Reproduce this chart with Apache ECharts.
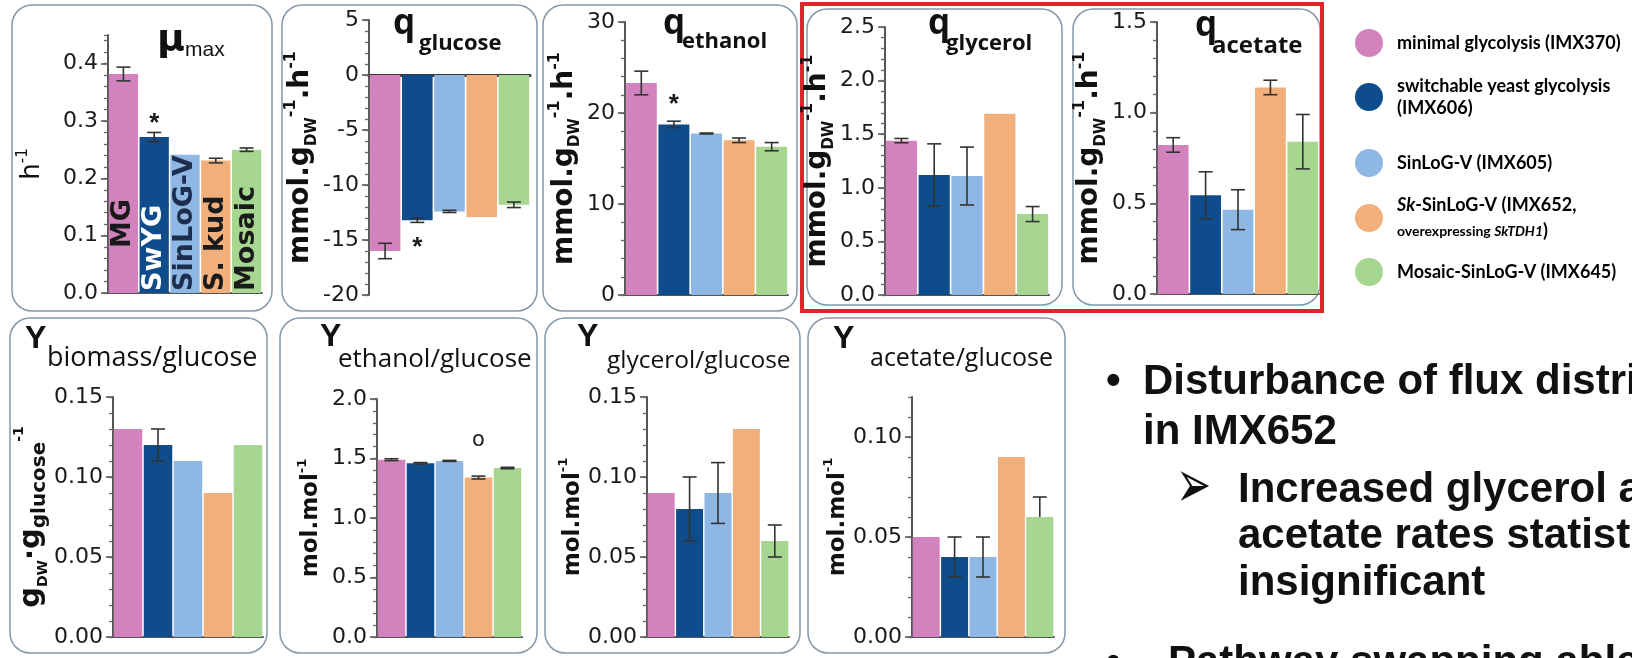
<!DOCTYPE html>
<html><head><meta charset="utf-8">
<script src="https://cdn.jsdelivr.net/npm/echarts@6/dist/echarts.min.js"></script>
<style>html,body{margin:0;padding:0;background:#fff}#c{width:1632px;height:658px}</style>
</head><body><div id="c"></div>
<script>
// ---------------- DATA ----------------
const strains = ['MG', 'SwYG', 'SinLoG-V', 'S. kud', 'Mosaic'];
const strainColors = ['#D283BE', '#0E4C8C', '#8EB8E3', '#F1B07B', '#A6D690'];
const strainLabelColors = ['#1a1a1a', '#ffffff', '#1d2d4d', '#1a1a1a', '#1a1a1a'];
const legendLabels = [
  '{b|minimal glycolysis (IMX370)}',
  '{b|switchable yeast glycolysis}\n{b|(IMX606)}',
  '{b|SinLoG-V (IMX605)}',
  '{bi|Sk}{b|-SinLoG-V (IMX652,}\n{s|overexpressing }{si|SkTDH1}{b|)}',
  '{b|Mosaic-SinLoG-V (IMX645)}'
];

const muMax = [0.382, 0.272, 0.241, 0.231, 0.250];
const muMaxErr = [0.012, 0.008, 0, 0.004, 0.003];
const muMaxMarks = ['', '*', '', '', ''];
const muMaxTicks = [0, 0.1, 0.2, 0.3, 0.4];

const qGlucose = [-16.0, -13.2, -12.4, -12.9, -11.8];
const qGlucoseErr = [0.7, 0.2, 0.1, 0, 0.25];
const qGlucoseMarks = ['', '*', '', '', ''];
const qGlucoseTicks = [-20, -15, -10, -5, 0, 5];

const qEthanol = [23.3, 18.75, 17.75, 17.0, 16.3];
const qEthanolErr = [1.3, 0.35, 0.05, 0.25, 0.45];
const qEthanolMarks = ['', '*', '', '', ''];
const qEthanolTicks = [0, 10, 20, 30];

const qGlycerol = [1.44, 1.12, 1.11, 1.69, 0.755];
const qGlycerolErr = [0.02, 0.29, 0.27, 0, 0.07];
const qGlycerolTicks = [0, 0.5, 1.0, 1.5, 2.0, 2.5];

const qAcetate = [0.822, 0.544, 0.465, 1.139, 0.84];
const qAcetateErr = [0.04, 0.13, 0.11, 0.04, 0.15];
const qAcetateTicks = [0, 0.5, 1.0, 1.5];

const yBiomass = [0.13, 0.12, 0.11, 0.09, 0.12];
const yBiomassErr = [0, 0.01, 0, 0, 0];
const yBiomassTicks = [0, 0.05, 0.10, 0.15];

const yEthanol = [1.49, 1.46, 1.48, 1.34, 1.42];
const yEthanolErr = [0.008, 0.006, 0.004, 0.012, 0.006];
const yEthanolMarks = ['', '', '', 'o', ''];
const yEthanolTicks = [0, 0.5, 1.0, 1.5, 2.0];

const yGlycerol = [0.09, 0.08, 0.09, 0.13, 0.06];
const yGlycerolErr = [0, 0.02, 0.019, 0, 0.01];
const yGlycerolTicks = [0, 0.05, 0.10, 0.15];

const yAcetate = [0.05, 0.04, 0.04, 0.09, 0.06];
const yAcetateErrLow = [0, 0.01, 0.01, 0, 0];
const yAcetateErrHigh = [0, 0.01, 0.01, 0, 0.01];
const yAcetateTicks = [0, 0.05, 0.10];

// ---------------- LAYOUT ----------------
const mmolName = '{b|mmol.g}{sub|DW}{sup|-1}{b|.h}{sup|-1}';
const molName = '{b|mol.mol}{sup|-1}';
const gName = '{b|g}{sub|DW}{b|·}{b|g}{sub2|glucose}{sup|-1}';
const FB = 'DejaVu Sans';
const richMmol = {
  b: {fontFamily: FB, fontWeight: 'bold', fontSize: 28, lineHeight: 36, color: '#111'},
  sub: {fontFamily: FB, fontWeight: 'bold', fontSize: 15, verticalAlign: 'bottom', color: '#111'},
  sup: {fontFamily: FB, fontWeight: 'bold', fontSize: 16, verticalAlign: 'top', color: '#111'}
};
const richMol = {
  b: {fontFamily: FB, fontWeight: 'bold', fontSize: 23, lineHeight: 30, color: '#111'},
  sup: {fontFamily: FB, fontWeight: 'bold', fontSize: 13, verticalAlign: 'top', color: '#111'}
};
const richG = {
  b: {fontFamily: FB, fontWeight: 'bold', fontSize: 29, lineHeight: 38, color: '#111'},
  sub: {fontFamily: FB, fontWeight: 'bold', fontSize: 14, verticalAlign: 'bottom', color: '#111'},
  sub2: {fontFamily: FB, fontWeight: 'bold', fontSize: 20, verticalAlign: 'bottom', color: '#111'},
  sup: {fontFamily: FB, fontWeight: 'bold', fontSize: 14, verticalAlign: 'top', color: '#111'}
};
const richH = {
  a: {fontFamily: FB, fontSize: 26, lineHeight: 32, color: '#111'},
  sup: {fontFamily: FB, fontSize: 15, verticalAlign: 'top', color: '#111'}
};
const starFont = 'bold 26px "Liberation Sans"';

const panels = [
  {values: muMax, errLo: muMaxErr, errHi: muMaxErr, marks: muMaxMarks, ticks: muMaxTicks,
   L: {grid: {left: 108, top: 35, width: 154, height: 258}, min: 0, max: 0.45, step: 0.1, minor: 0.02, dec: 1,
       name: '{a|h}{sup|-1}', rich: richH, nameGap: 60, markGap: 9, markFont: starFont, barLabels: true}},
  {values: qGlucose, errLo: qGlucoseErr, errHi: qGlucoseErr, marks: qGlucoseMarks, ticks: qGlucoseTicks,
   L: {grid: {left: 369, top: 20, width: 161, height: 275}, min: -20, max: 5, step: 5, minor: 1, dec: 0,
       name: mmolName, rich: richMmol, nameGap: 34, markGap: 25, markFont: starFont, zeroLine: true}},
  {values: qEthanol, errLo: qEthanolErr, errHi: qEthanolErr, marks: qEthanolMarks, ticks: qEthanolTicks,
   L: {grid: {left: 625, top: 22, width: 163, height: 273}, min: 0, max: 30, step: 10, minor: 2, dec: 0,
       name: mmolName, rich: richMmol, nameGap: 31, markGap: 16, markFont: starFont}},
  {values: qGlycerol, errLo: qGlycerolErr, errHi: qGlycerolErr, marks: null, ticks: qGlycerolTicks,
   L: {grid: {left: 885, top: 27, width: 164, height: 268}, min: 0, max: 2.5, step: 0.5, minor: 0.1, dec: 1,
       name: mmolName, rich: richMmol, nameGap: 27}},
  {values: qAcetate, errLo: qAcetateErr, errHi: qAcetateErr, marks: null, ticks: qAcetateTicks,
   L: {grid: {left: 1157, top: 22, width: 162, height: 272}, min: 0, max: 1.5, step: 0.5, minor: 0.1, dec: 1,
       name: mmolName, rich: richMmol, nameGap: 43}},
  {values: yBiomass, errLo: yBiomassErr, errHi: yBiomassErr, marks: null, ticks: yBiomassTicks,
   L: {grid: {left: 113, top: 397, width: 150, height: 240}, min: 0, max: 0.15, step: 0.05, minor: 0.01, dec: 2,
       name: gName, rich: richG, nameGap: 60}},
  {values: yEthanol, errLo: yEthanolErr, errHi: yEthanolErr, marks: yEthanolMarks, ticks: yEthanolTicks,
   L: {grid: {left: 377, top: 399, width: 145, height: 238}, min: 0, max: 2.0, step: 0.5, minor: 0.1, dec: 1,
       name: molName, rich: richMol, nameGap: 51, markGap: 36, markFont: '21px "DejaVu Sans"'}},
  {values: yGlycerol, errLo: yGlycerolErr, errHi: yGlycerolErr, marks: null, ticks: yGlycerolTicks,
   L: {grid: {left: 647, top: 397, width: 142, height: 240}, min: 0, max: 0.15, step: 0.05, minor: 0.01, dec: 2,
       name: molName, rich: richMol, nameGap: 56}},
  {values: yAcetate, errLo: yAcetateErrLow, errHi: yAcetateErrHigh, marks: null, ticks: yAcetateTicks,
   L: {grid: {left: 912, top: 397, width: 142, height: 240}, min: 0, max: 0.12, step: 0.05, minor: 0.01, dec: 2,
       name: molName, rich: richMol, nameGap: 56}}
];

function makeErr(p) {
  const L = p.L;
  return function (params, api) {
    const i = api.value(0), v = api.value(1), lo = api.value(2), hi = api.value(3);
    const c = api.coord([i, v]), t = api.coord([i, v + hi]), b = api.coord([i, v - lo]);
    const x = c[0], w = 7;
    const ls = {stroke: '#333', lineWidth: 1.6};
    const kids = [];
    if (hi > 0 || lo > 0) {
      kids.push({type: 'line', shape: {x1: x, y1: t[1], x2: x, y2: b[1]}, style: ls});
      if (hi > 0) kids.push({type: 'line', shape: {x1: x - w, y1: t[1], x2: x + w, y2: t[1]}, style: ls});
      if (lo > 0) kids.push({type: 'line', shape: {x1: x - w, y1: b[1], x2: x + w, y2: b[1]}, style: ls});
    }
    const m = p.marks ? p.marks[params.dataIndex] : '';
    if (m) {
      const y = v < 0 ? b[1] + L.markGap : t[1] - L.markGap;
      kids.push({type: 'text', style: {text: m, x: x, y: y, align: 'center', verticalAlign: 'middle', font: L.markFont, fill: '#1a1a1a'}});
    }
    return {type: 'group', children: kids};
  };
}

const grids = [], xAxes = [], yAxes = [], series = [];
panels.forEach((p, k) => {
  const L = p.L;
  grids.push(Object.assign({outerBoundsMode: 'none', containLabel: false}, L.grid));
  xAxes.push({type: 'category', gridIndex: k, data: strains,
    axisLine: {show: true, onZero: true, lineStyle: {color: L.zeroLine ? '#3a3a3a' : '#555', width: L.zeroLine ? 3 : 2}},
    axisTick: {show: false}, axisLabel: {show: false}, splitLine: {show: false}});
  const yMajor = yAxes.length;
  yAxes.push({type: 'value', gridIndex: k, min: L.min, max: L.max, interval: L.step, position: 'left',
    axisLine: {show: true, lineStyle: {color: '#555', width: 2}},
    axisTick: {show: true, length: 7, customValues: p.ticks, lineStyle: {color: '#555', width: 1.6}},
    axisLabel: {show: true, customValues: p.ticks, margin: 10, fontFamily: 'DejaVu Sans', fontSize: 22, color: '#1a1a1a',
      formatter: v => Number(v).toFixed(L.dec)},
    splitLine: {show: false}, minorTick: {show: false},
    name: L.name, nameLocation: 'middle', nameRotate: 90, nameGap: L.nameGap, nameTextStyle: {rich: L.rich}});
  yAxes.push({type: 'value', gridIndex: k, min: L.min, max: L.max, interval: L.minor, position: 'left',
    axisLine: {show: false}, axisTick: {show: true, length: 4, lineStyle: {color: '#666', width: 1.3}},
    axisLabel: {show: false}, splitLine: {show: false}});
  series.push({type: 'bar', xAxisIndex: k, yAxisIndex: yMajor, barCategoryGap: '5%', silent: true,
    label: L.barLabels ? {show: true, position: 'insideBottom', rotate: 90, align: 'left', verticalAlign: 'middle',
      fontFamily: 'DejaVu Sans', fontWeight: 'bold', fontSize: 27, formatter: q => strains[q.dataIndex]} : {show: false},
    data: p.values.map((v, i) => ({value: v, itemStyle: {color: strainColors[i]},
      label: L.barLabels ? {color: strainLabelColors[i], distance: i === 0 ? 45 : 2} : undefined}))});
  series.push({type: 'custom', xAxisIndex: k, yAxisIndex: yMajor, z: 5, silent: true, renderItem: makeErr(p),
    data: p.values.map((v, i) => [i, v, p.errLo[i], p.errHi[i]])});
});

// ---------------- DECORATION ----------------
const G = [];
const boxStyle = {fill: 'none', stroke: '#8597a8', lineWidth: 1.5};
[[12, 5, 272, 311], [282, 5, 537, 311], [543, 5, 797, 311], [807, 9, 1062, 305], [1073, 9, 1320, 305],
 [10, 318, 267, 653], [280, 318, 537, 653], [545, 318, 800, 653], [808, 318, 1065, 653]].forEach(b => {
  G.push({type: 'rect', shape: {x: b[0], y: b[1], width: b[2] - b[0], height: b[3] - b[1], r: 20}, style: boxStyle, silent: true});
});
G.push({type: 'rect', shape: {x: 802, y: 4, width: 520, height: 307}, style: {fill: 'none', stroke: '#E0242B', lineWidth: 4}, silent: true});

function txt(text, x, y, font, extra, props) {
  G.push(Object.assign({type: 'text', x: x, y: y, silent: true, z: 10,
    style: Object.assign({text: text, font: font, fill: '#111', align: 'left', verticalAlign: 'middle'}, extra || {})}, props || {}));
}
// titles
txt('μ', 157, 40, 'bold 38px "DejaVu Sans"');
txt('max', 185, 50, '21px "Liberation Sans"');
[[393, 24, 419, 44, 'glucose', 22], [663, 24, 682, 42, 'ethanol', 22], [928, 24, 946, 44, 'glycerol', 22], [1195, 26, 1212, 46, 'acetate', 24]]
  .forEach(t => { txt('q', t[0], t[1], 'bold 35px "Open Sans"'); txt(t[4], t[2], t[3], 'bold ' + t[5] + 'px "Open Sans"'); });
[[25, 339, 47, 358, 'biomass/glucose', 27], [320, 337, 338, 360, 'ethanol/glucose', 26], [577, 337, 607, 361, 'glycerol/glucose', 24.5], [833, 339, 870, 359, 'acetate/glucose', 25]]
  .forEach(t => { txt('Y', t[0], t[1], 'bold 32px "Liberation Sans"'); txt(t[4], t[2], t[3], t[5] + 'px "Open Sans"'); });

// legend
const legendY = [43, 97, 163, 218, 272];
const legRich = {
  b: {fontFamily: 'Lato', fontWeight: 'bold', fontSize: 18, color: '#1a1a1a'},
  bi: {fontFamily: 'Lato', fontWeight: 'bold', fontStyle: 'italic', fontSize: 18, color: '#1a1a1a'},
  s: {fontFamily: 'Lato', fontWeight: 'bold', fontSize: 14, color: '#1a1a1a'},
  si: {fontFamily: 'Lato', fontWeight: 'bold', fontStyle: 'italic', fontSize: 14, color: '#1a1a1a'}
};
legendLabels.forEach((lab, i) => {
  G.push({type: 'circle', shape: {cx: 1369, cy: legendY[i], r: 14}, style: {fill: strainColors[i]}, silent: true});
  G.push({type: 'text', x: 1397, y: legendY[i], silent: true,
    style: {text: lab, rich: legRich, align: 'left', verticalAlign: 'middle', lineHeight: i === 3 ? 26 : 22}});
});

// right-hand text
const bigFont = 'bold 42px "Liberation Sans"';
txt('•', 1106, 382, bigFont);
txt('Disturbance of flux distribution', 1143, 382, bigFont);
txt('in IMX652', 1143, 432, bigFont);
txt('➢', 1176, 490, '42px "DejaVu Sans"', null, {scaleY: 1.6});
txt('Increased glycerol and', 1238, 490, bigFont);
txt('acetate rates statistically', 1238, 536, bigFont);
txt('insignificant', 1238, 583, bigFont);
txt('•', 1106, 663, bigFont);
txt('Pathway swapping able', 1168, 663, bigFont);

const chart = echarts.init(document.getElementById('c'));
chart.setOption({
  backgroundColor: '#ffffff',
  animation: false,
  grid: grids, xAxis: xAxes, yAxis: yAxes, series: series,
  graphic: {elements: G}
});
</script></body></html>
